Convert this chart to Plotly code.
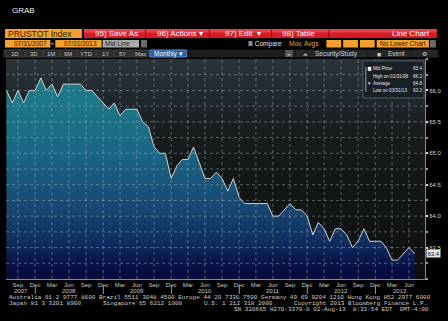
import plotly.graph_objects as go
import pandas as pd

# ---------------- data ----------------
start_month = "2007-07-01"
mid_price = [66.0, 65.8, 66.0, 65.8, 66.0, 66.0, 66.2, 66.0, 66.1, 65.9,
             66.1, 66.1, 66.1, 66.1, 66.0, 66.0, 65.9, 65.8, 65.7, 65.8,
             65.6, 65.7, 65.7, 65.7, 65.5, 65.42, 65.1, 65.0, 65.0, 64.6,
             64.8, 64.9, 64.9, 65.1, 64.85, 64.6, 64.6, 64.7, 64.6, 64.4,
             64.6, 64.3, 64.2, 64.2, 64.2, 64.2, 64.2, 64.0, 64.0, 64.1,
             64.2, 64.1, 64.1, 64.0, 63.7, 63.9, 63.8, 63.6, 63.8, 63.8,
             63.7, 63.5, 63.6, 63.8, 63.6, 63.6, 63.6, 63.5, 63.3, 63.3,
             63.4, 63.5, 63.4]
month_names = {3: "Mar", 6: "Jun", 9: "Sep", 12: "Dec"}
year_labels = ["2007", "2008", "2009", "2010", "2011", "2012", "2013"]
y_ticks = [63.5, 64.0, 64.5, 65.0, 65.5, 66.0]
legend_labels = ["Mid Price", "High on 01/31/08", "Average", "Low on 03/31/13"]
legend_values = ["63.4", "66.2", "64.8", "63.2"]
last_price = 63.4
x_range = ["2007-07-28", "2013-09-24"]
y_range = [63.0, 66.5]

dates = pd.date_range(start_month, periods=len(mid_price), freq="MS") + pd.offsets.MonthEnd(0)
tick_dates = [d for d in dates if d.month in month_names]
tick_text = [month_names[d.month] for d in tick_dates]

# ---------------- geometry helpers ----------------
W, H = 448, 321
L, R, T, B = 6, 431, 59, 279
PW, PH = R - L, B - T


def px(x):
    return (x - L) / PW


def py(y):
    return (B - y) / PH


def hex2rgb(h):
    h = h.lstrip("#")
    return [int(h[i:i + 2], 16) for i in (0, 2, 4)]


def lerp_color(stops, t):
    for (t0, c0), (t1, c1) in zip(stops[:-1], stops[1:]):
        if t0 <= t <= t1:
            f = (t - t0) / (t1 - t0) if t1 > t0 else 0
            a, b = hex2rgb(c0), hex2rgb(c1)
            return "rgb(%d,%d,%d)" % tuple(round(a[i] + (b[i] - a[i]) * f) for i in range(3))
    return stops[-1][1]


shapes = []
annotations = []


def rect(x0, y0, x1, y1, color, line_color=None, layer="above"):
    shapes.append(dict(type="rect", xref="paper", yref="paper",
                       x0=px(x0), x1=px(x1), y0=py(y1), y1=py(y0),
                       fillcolor=color, layer=layer,
                       line=dict(width=1 if line_color else 0, color=line_color or color)))


def text(x, y, s, size=7, color="#ffffff", anchor="left", family="Liberation Sans, Arial, sans-serif"):
    annotations.append(dict(xref="paper", yref="paper", x=px(x), y=py(y), text=s,
                            showarrow=False, xanchor=anchor, yanchor="middle",
                            borderpad=0, font=dict(size=size, color=color, family=family)))


# ---------------- plot background gradient ----------------
bg_stops = [(0, "#2b333b"), (0.18, "#20272c"), (0.32, "#191d1f"), (0.5, "#141816"),
            (0.73, "#101412"), (1, "#0c0f0e")]
n_bands = 44
for i in range(n_bands):
    y0 = T + PH * i / n_bands
    y1 = T + PH * (i + 1) / n_bands
    rect(L, y0, R, y1 + 0.5, lerp_color(bg_stops, (i + 0.5) / n_bands), layer="below")

# ---------------- traces ----------------
fig = go.Figure()
fig.add_trace(go.Scatter(
    x=dates, y=mid_price, mode="lines", fill="tozeroy",
    line=dict(color="#cdd5dc", width=1),
    fillgradient=dict(type="vertical", start=63.0, stop=66.3,
                      colorscale=[[0, "#070c3c"], [0.05, "#080f42"], [0.18, "#0f2d60"],
                                  [0.36, "#174a72"], [0.6, "#1a6584"], [0.79, "#1b7383"],
                                  [1, "#1f7e8e"]]),
    hoverinfo="skip", showlegend=False))

# ---------------- grid (dotted, above fill) ----------------
grid_col = "rgba(175,185,195,0.45)"
yv = y_range[0] + 0.25
while yv < y_range[1] - 0.01:
    shapes.append(dict(type="line", xref="paper", yref="y", x0=0, x1=1, y0=yv, y1=yv,
                       line=dict(color=grid_col, width=1, dash="dot"), layer="above"))
    yv += 0.25
for d in tick_dates:
    shapes.append(dict(type="line", xref="x", yref="paper", x0=d, x1=d, y0=0, y1=1,
                       line=dict(color=grid_col, width=1, dash="dot"), layer="above"))

# ---------------- year labels & separators ----------------
rs, re_ = pd.Timestamp(x_range[0]), pd.Timestamp(x_range[1])
for ylab in year_labels:
    yr = int(ylab)
    s = max(pd.Timestamp(f"{yr}-01-01"), rs)
    e = min(pd.Timestamp(f"{yr + 1}-01-01"), re_)
    mid = s + (e - s) / 2
    annotations.append(dict(xref="x", yref="paper", x=mid, y=py(290.5), text=ylab, showarrow=False,
                            xanchor="center", yanchor="middle",
                            font=dict(size=6, color="#c8c8c8", family="Liberation Sans, Arial")))
    if yr > int(year_labels[0]):
        sep = pd.Timestamp(f"{yr}-01-01")
        shapes.append(dict(type="line", xref="x", yref="paper", x0=sep, x1=sep,
                           y0=py(286), y1=py(294), line=dict(color="#9a9a9a", width=1)))

# ---------------- legend box ----------------
rect(368, 61, 430, 98, "#182026", line_color="#4c5862")
rows_y = [69, 76, 83, 90]
for lab, val, yy in zip(legend_labels, legend_values, rows_y):
    text(377.5, yy, lab, size=4.6, color="#e6e6e6")
    text(428.5, yy, val, size=4.6, color="#e6e6e6", anchor="right")
rect(373, 66.8, 376.5, 70.8, "#ffffff")
shapes.append(dict(type="line", xref="paper", yref="paper", x0=px(371), x1=px(371),
                   y0=py(92), y1=py(67), line=dict(color="#9aa4ac", width=1)))
text(372.2, 83, "▾", size=4.5, color="#e6e6e6")

# last price box
annotations.append(dict(xref="paper", yref="y", x=px(432), y=last_price, text="63.4",
                        showarrow=False, xanchor="left", yanchor="middle", bgcolor="#e6e6e6",
                        borderpad=0.5, font=dict(size=6, color="#000000", family="Liberation Sans, Arial")))

# ---------------- header ----------------
text(11, 10, "GRAB", size=8, color="#f0f0f0")
# row 1
rect(5, 29, 83, 38, "#f4a12e")
text(7, 33.7, "PRUSTOT Index", size=8.5, color="#2a1a00")
rect(85, 29, 443, 38, "#d41c26")
rect(85, 29, 443, 32.5, "#e5414a")
for sx in [147, 212, 275, 333]:
    rect(sx, 29, sx + 1, 38, "#8e0c12")
text(95, 33.7, "95) Save As", size=8, color="#ffffff")
text(158, 33.7, "96) Actions ▾", size=8, color="#ffffff")
text(227, 33.7, "97) Edit  ▾", size=8, color="#ffffff")
text(285, 33.7, "98) Table", size=8, color="#ffffff")
text(437, 33.7, "Line Chart", size=8, color="#ffffff", anchor="right")
# row 2
rect(5, 40, 51, 47.5, "#f4a12e")
text(13, 43.8, "07/31/2007", size=6.5, color="#2a1a00")
rect(52, 43, 54, 44.5, "#f4a12e")
rect(56, 40, 103, 47.5, "#f4a12e")
text(64, 43.8, "07/31/2013", size=6.5, color="#2a1a00")
rect(104, 40, 141, 47.5, "#a9a9a9")
text(105, 43.8, "Mid Line", size=6.5, color="#202020")
rect(143, 40, 149, 47.5, "#6a6a6a")
text(250, 43.8, "Ⅲ Compare", size=6.5, color="#e0e0e0")
text(292, 43.8, "Mov. Avgs", size=6.5, color="#f4a12e")
for bx in [331, 348, 365]:
    rect(bx, 40, bx + 15, 47.5, "#f4a12e")
rect(382, 40, 435, 47.5, "#f4a12e")
text(384, 43.8, "No Lower Chart", size=6.5, color="#2a1a00")
rect(436, 40, 442, 47.5, "#6a6a6a")
# row 3
rect(3, 49.5, 445, 57.5, "#1d1d1d")
btns = [("1D", 5, 25), ("3D", 26, 43), ("1M", 44, 60), ("6M", 61, 77), ("YTD", 78, 97),
        ("1Y", 98, 115), ("5Y", 116, 133), ("Max", 134, 150)]
for lab, bx0, bx1 in btns:
    rect(bx0, 50, bx1, 57, "#2c2c2c", line_color="#3e3e3e")
    text((bx0 + bx1) / 2, 53.7, lab, size=6, color="#c8c8c8", anchor="center")
rect(152, 50, 189, 57, "#2a5f9e", line_color="#5a86c0")
text(155, 53.7, "Monthly ▾", size=6.5, color="#ffffff")
rect(289, 50, 297, 57, "#555555")
text(293, 53.5, "»", size=6, color="#dddddd", anchor="center")
rect(300, 50, 372, 57, "#262626")
text(306, 53.7, "⩕", size=6, color="#cccccc")
text(318, 53.7, "Security/Study", size=6.5, color="#d0d0d0")
rect(374, 50, 416, 57, "#262626")
text(381, 53.7, "◼", size=5, color="#cccccc")
text(392, 53.7, "Event", size=6.5, color="#d0d0d0")
rect(418, 50, 443, 57, "#262626")
text(430, 53.7, "⚙", size=6, color="#cccccc", anchor="center")

# ---------------- footer ----------------
mono = "Liberation Mono, DejaVu Sans Mono, monospace"
fcol = "#cfcfcf"
text(8, 297.5, "Australia 61 2 9777 8600 Brazil 5511 3048 4500 Europe 44 20 7330 7500 Germany 49 69 9204 1210 Hong Kong 852 2977 6000",
     size=6.0, color=fcol, family=mono)
text(8, 303.5, "Japan 81 3 3201 8900", size=6.0, color=fcol, family=mono)
text(103, 303.5, "Singapore 65 6212 1000", size=6.0, color=fcol, family=mono)
text(206, 303.5, "U.S. 1 212 318 2000", size=6.0, color=fcol, family=mono)
text(434, 303.5, "Copyright 2013 Bloomberg Finance L.P.", size=6.0, color=fcol, family=mono, anchor="right")
text(436, 309.5, "SN 320665 H270-3379-0 02-Aug-13  8:33:54 EDT  GMT-4:00", size=6.0, color=fcol,
     family=mono, anchor="right")

# ---------------- layout ----------------
fig.update_layout(
    width=W, height=H,
    margin=dict(l=L, r=W - R, t=T, b=H - B, pad=0),
    paper_bgcolor="#000000", plot_bgcolor="rgba(0,0,0,0)",
    showlegend=False,
    shapes=shapes, annotations=annotations,
    xaxis=dict(type="date", range=x_range, tickvals=tick_dates, ticktext=tick_text,
               ticks="", showgrid=False, zeroline=False, showline=True, linecolor="#8a8a8a",
               linewidth=1, tickfont=dict(size=6, color="#c8c8c8", family="Liberation Sans, Arial"),
               ticklabelstandoff=0),
    yaxis=dict(side="right", range=y_range, tickvals=y_ticks,
               ticktext=["%.1f" % v for v in y_ticks], ticks="outside", ticklen=2,
               tickcolor="#e0e0e0", tickwidth=2, showgrid=False, zeroline=False,
               showline=True, linecolor="#8a8a8a", linewidth=1,
               tickfont=dict(size=6, color="#d8d8d8", family="Liberation Sans, Arial"),
               minor=dict(ticks="outside", ticklen=2, tickcolor="#9a9a9a", dtick=0.25, showgrid=False)),
)

fig.write_html("out.html")
